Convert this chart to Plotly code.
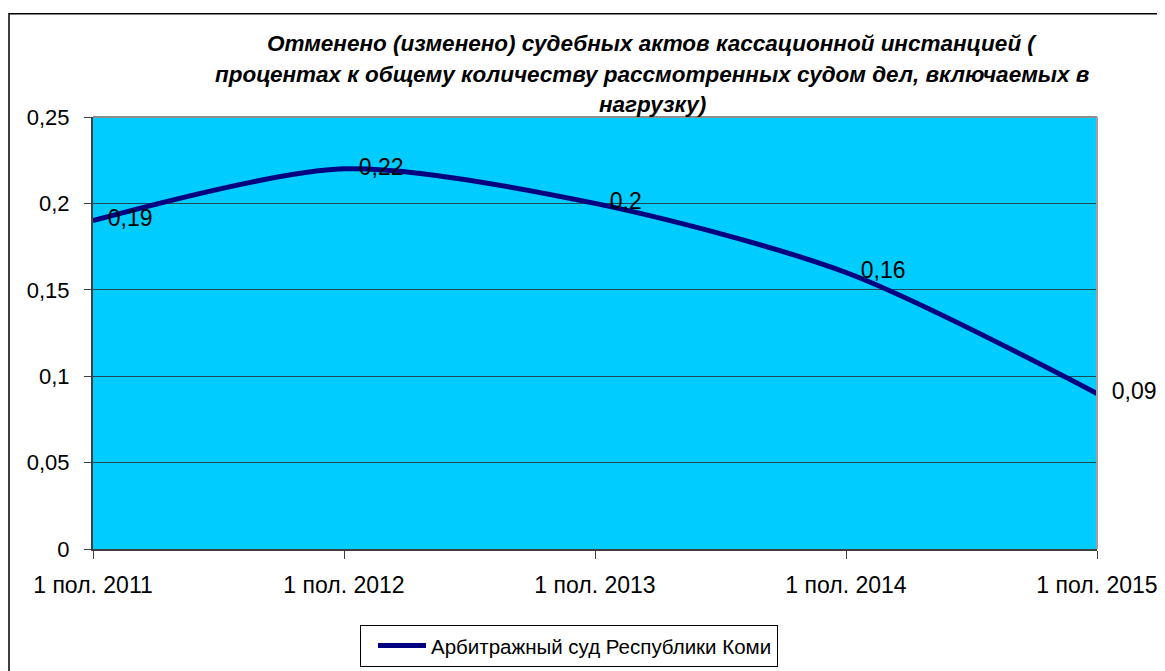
import plotly.graph_objects as go

categories = ["1 пол. 2011", "1 пол. 2012", "1 пол. 2013", "1 пол. 2014", "1 пол. 2015"]
values = [0.19, 0.22, 0.2, 0.16, 0.09]
series_name = "Арбитражный суд Республики Коми"
title_lines = [
    "Отменено (изменено) судебных актов кассационной инстанцией (",
    "процентах к общему количеству рассмотренных судом дел, включаемых в",
    "нагрузку)",
]
y_ticks = [0, 0.05, 0.1, 0.15, 0.2, 0.25]
y_ticktext = ["0", "0,05", "0,1", "0,15", "0,2", "0,25"]

labels = [str(v).replace(".", ",") for v in values]

# page body has an 8px margin; work in page coordinates and convert
OFF = 8
W, H = 1165, 671
L = 93 - OFF
T = 117 - OFF
R = W - (1097 - OFF)
B = H - (556 - OFF)
pw, ph = W - L - R, H - T - B

def px(x):
    return (x - OFF - L) / pw

def py(y):
    return (H - B - (y - OFF)) / ph

FONT = "Liberation Sans, Arial, sans-serif"

fig = go.Figure()
fig.add_trace(go.Scatter(
    x=list(range(len(categories))), y=values, mode="lines",
    line=dict(color="#000080", width=5, shape="spline", smoothing=0.8),
    name=series_name, showlegend=True,
))
fig.add_trace(go.Scatter(
    x=list(range(len(categories))), y=values, mode="markers+text",
    marker=dict(size=22, opacity=0),
    text=labels, textposition="middle right",
    textfont=dict(family=FONT, size=23, color="#000000"),
    showlegend=False, hoverinfo="skip", cliponaxis=False,
))

annotations = []
for line, ypix in zip(title_lines, [42, 74, 104]):
    annotations.append(dict(
        text="<b><i>" + line + "</i></b>", x=px(652), y=py(ypix),
        xref="paper", yref="paper", xanchor="center", yanchor="middle",
        showarrow=False, font=dict(family=FONT, size=22.5, color="#000000"),
    ))

shapes = [
    dict(type="rect", xref="paper", yref="paper",
         x0=px(9), x1=px(1185), y0=py(700), y1=py(12),
         line=dict(color="#000000", width=1.5), fillcolor="rgba(0,0,0,0)", layer="below"),
    dict(type="line", xref="paper", yref="paper", x0=0, x1=1, y0=1, y1=1,
         line=dict(color="#8c8c8c", width=2)),
    dict(type="line", xref="paper", yref="paper", x0=1, x1=1, y0=0, y1=1,
         line=dict(color="#a0a0a0", width=2)),
]

fig.update_layout(
    width=W, height=H, autosize=False,
    margin=dict(l=L, r=R, t=T, b=B, pad=0),
    paper_bgcolor="#ffffff", plot_bgcolor="#00CCFF",
    font=dict(family=FONT, size=21, color="#000000"),
    annotations=annotations, shapes=shapes,
    showlegend=True,
    legend=dict(
        x=px(360), y=py(633), xanchor="left", yanchor="top",
        bordercolor="#000000", borderwidth=1, bgcolor="#ffffff",
        font=dict(family=FONT, size=20.5, color="#000000"),
        itemwidth=48, entrywidthmode="pixels", entrywidth=408,
        indentation=12, tracegroupgap=0,
    ),
    xaxis=dict(
        range=[0, len(categories) - 1], tickvals=list(range(len(categories))),
        ticktext=categories, showgrid=False, zeroline=False,
        showline=True, linecolor="#404040", linewidth=2,
        ticks="outside", ticklen=8, tickcolor="#404040", tickwidth=1,
        tickfont=dict(family=FONT, size=23, color="#000000"),
        ticklabelstandoff=6,
    ),
    yaxis=dict(
        range=[0, 0.25], tickvals=y_ticks, ticktext=y_ticktext,
        showgrid=True, gridcolor="#1a4a56", gridwidth=1, zeroline=False,
        showline=True, linecolor="#404040", linewidth=2,
        ticks="outside", ticklen=7, tickcolor="#404040", tickwidth=1,
        tickfont=dict(family=FONT, size=22, color="#000000"),
        ticklabelstandoff=10,
    ),
)

fig.write_html("out.html")
